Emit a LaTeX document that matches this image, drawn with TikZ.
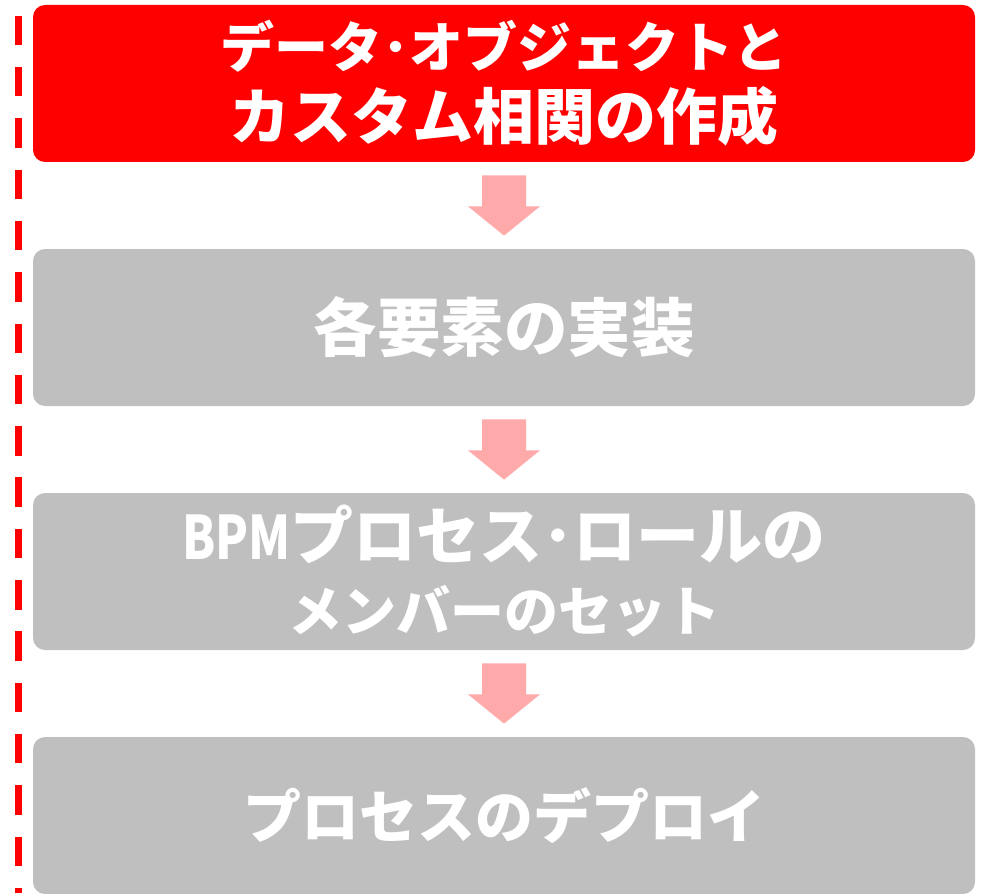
\documentclass[tikz,border=0pt]{standalone}
\usepackage{fontspec}
\newfontfamily\jpfont{Noto Sans CJK JP}
\usepackage{xcolor}
\usepackage{tikz}
\usetikzlibrary{calc}
\usetikzlibrary{positioning}

\definecolor{stepred}{RGB}{255,0,0}
\definecolor{stepgray}{RGB}{191,191,191}
\definecolor{arrowpink}{RGB}{255,170,170}
\newcommand{\jpsize}[1]{\fontsize{#1}{36pt}\selectfont}

\begin{document}
\begin{tikzpicture}[x=0.5pt,y=-0.5pt,
		stepbox/.style={rounded corners=6pt,minimum width=471pt,minimum height=78.5pt,inner sep=0pt,text=white,align=center,font=\jpfont\bfseries},
		blockarrow/.style={fill=arrowpink,draw=none},
		dashline/.style={draw=stepred,line width=3.5pt,dash pattern=on 14.75pt off 10.9pt}]
		\useasboundingbox (0,0) rectangle (983,893);
		\draw[dashline] (18.5,15.7) -- (18.5,893);
		\node[stepbox,fill=stepred,font=\jpfont\bfseries\jpsize{27pt}] (make) at (504,83.5) {データ･オブジェクトと\\{\jpsize{30.5pt}カスタム相関の作成}};
		\node[stepbox,fill=stepgray,font=\jpfont\bfseries\jpsize{31.75pt}] (impl) at (504,327.5) {各要素の実装};
		\node[stepbox,fill=stepgray,font=\jpfont\bfseries\jpsize{27pt}] (role) at (504,571.5) {\scalebox{0.8}[1]{\jpsize{30pt}BPM}{\jpsize{31.5pt}プロセス･ロールの}\\メンバーのセット};
		\node[stepbox,fill=stepgray,font=\jpfont\bfseries\jpsize{29pt}] (deploy) at (504,815.5) {プロセスのデプロイ};
		\foreach \a/\b in {make/impl,impl/role,role/deploy}
		{
			\fill[blockarrow] ($(\a.south)+(-22,13)$) -- ++(44,0) -- ++(0,31) -- ++(14,0) -- ($(\b.north)+(0,-13)$) -- ($(\a.south)+(-36,44)$) -- ++(14,0) -- cycle;
		}
	\end{tikzpicture}
\end{document}
